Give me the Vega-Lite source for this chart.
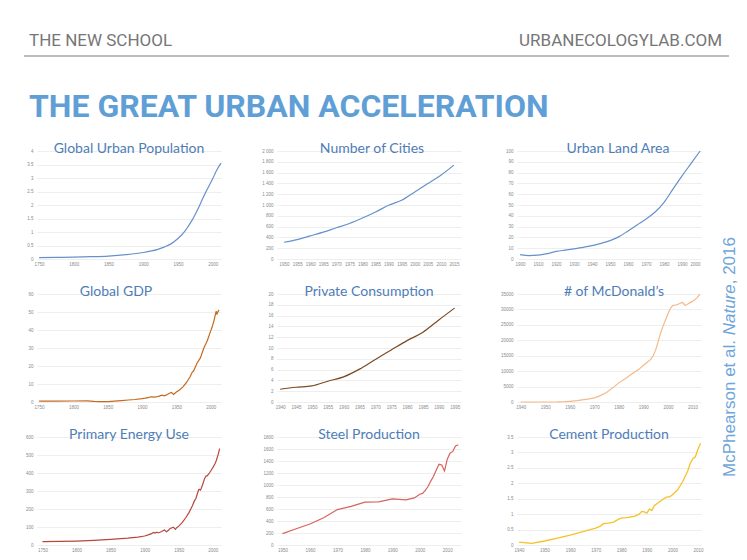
{
  "$schema": "https://vega.github.io/schema/vega-lite/v6.json",
  "padding": {"left": 22, "top": 28, "right": 0, "bottom": 0},
  "background": "white",
  "datasets": {
    "pop": [
      {"year": 1750, "value": 0.05}, {"year": 1775, "value": 0.06}, {"year": 1800, "value": 0.07}, {"year": 1825, "value": 0.085},
      {"year": 1850, "value": 0.11}, {"year": 1875, "value": 0.16}, {"year": 1900, "value": 0.24}, {"year": 1910, "value": 0.29},
      {"year": 1920, "value": 0.35}, {"year": 1930, "value": 0.44}, {"year": 1940, "value": 0.56}, {"year": 1950, "value": 0.76},
      {"year": 1955, "value": 0.88}, {"year": 1960, "value": 1.03}, {"year": 1965, "value": 1.22}, {"year": 1970, "value": 1.42},
      {"year": 1975, "value": 1.66}, {"year": 1980, "value": 1.92}, {"year": 1985, "value": 2.2}, {"year": 1990, "value": 2.47},
      {"year": 1995, "value": 2.72}, {"year": 2000, "value": 2.97}, {"year": 2005, "value": 3.25}, {"year": 2012, "value": 3.55}
    ],
    "cities": [
      {"year": 1950, "value": 310}, {"year": 1955, "value": 360}, {"year": 1960, "value": 428}, {"year": 1965, "value": 497},
      {"year": 1970, "value": 578}, {"year": 1975, "value": 658}, {"year": 1980, "value": 758}, {"year": 1985, "value": 870},
      {"year": 1990, "value": 994}, {"year": 1995, "value": 1087}, {"year": 2000, "value": 1242}, {"year": 2005, "value": 1398},
      {"year": 2010, "value": 1553}, {"year": 2015, "value": 1739}
    ],
    "land": [
      {"year": 1900, "value": 4.0}, {"year": 1905, "value": 3.2}, {"year": 1910, "value": 3.6}, {"year": 1915, "value": 5.0},
      {"year": 1920, "value": 7.0}, {"year": 1925, "value": 8.2}, {"year": 1930, "value": 9.3}, {"year": 1935, "value": 10.8},
      {"year": 1940, "value": 12.4}, {"year": 1945, "value": 14.5}, {"year": 1950, "value": 17.0}, {"year": 1955, "value": 20.7},
      {"year": 1960, "value": 26.0}, {"year": 1965, "value": 31.5}, {"year": 1970, "value": 37.0}, {"year": 1975, "value": 43.5},
      {"year": 1980, "value": 52.5}, {"year": 1985, "value": 65.0}, {"year": 1990, "value": 77.0}, {"year": 1995, "value": 88.5},
      {"year": 2000, "value": 100}
    ],
    "gdp": [
      {"year": 1750, "value": 0.5}, {"year": 1775, "value": 0.5}, {"year": 1800, "value": 0.55}, {"year": 1820, "value": 0.6},
      {"year": 1830, "value": 0.3}, {"year": 1840, "value": 0.2}, {"year": 1850, "value": 0.2}, {"year": 1860, "value": 0.5},
      {"year": 1870, "value": 0.8}, {"year": 1880, "value": 1.1}, {"year": 1890, "value": 1.4}, {"year": 1900, "value": 1.9},
      {"year": 1905, "value": 2.2}, {"year": 1910, "value": 2.6}, {"year": 1913, "value": 2.9}, {"year": 1918, "value": 2.7},
      {"year": 1920, "value": 2.8}, {"year": 1925, "value": 3.3}, {"year": 1929, "value": 3.8}, {"year": 1932, "value": 3.4},
      {"year": 1935, "value": 3.8}, {"year": 1940, "value": 4.9}, {"year": 1943, "value": 5.3}, {"year": 1946, "value": 4.2},
      {"year": 1950, "value": 5.5}, {"year": 1955, "value": 6.8}, {"year": 1960, "value": 8.5}, {"year": 1965, "value": 11.0},
      {"year": 1970, "value": 14.0}, {"year": 1973, "value": 16.5}, {"year": 1975, "value": 17.2}, {"year": 1980, "value": 21.5},
      {"year": 1985, "value": 24.5}, {"year": 1990, "value": 30.0}, {"year": 1995, "value": 34.0}, {"year": 2000, "value": 39.5},
      {"year": 2002, "value": 41.5}, {"year": 2005, "value": 45.5}, {"year": 2007, "value": 49.0}, {"year": 2008, "value": 50.5},
      {"year": 2009, "value": 48.5}, {"year": 2010, "value": 49.8}, {"year": 2011, "value": 50.5}, {"year": 2012, "value": 51.2}
    ],
    "consumption": [
      {"year": 1940, "value": 2.36}, {"year": 1945, "value": 2.73}, {"year": 1950, "value": 2.98}, {"year": 1955, "value": 3.85},
      {"year": 1960, "value": 4.66}, {"year": 1965, "value": 6.09}, {"year": 1970, "value": 7.89}, {"year": 1975, "value": 9.63},
      {"year": 1980, "value": 11.37}, {"year": 1985, "value": 12.92}, {"year": 1990, "value": 15.2}, {"year": 1995, "value": 17.4}
    ],
    "mcd": [
      {"year": 1940, "value": 0}, {"year": 1945, "value": 0}, {"year": 1950, "value": 0}, {"year": 1955, "value": 20},
      {"year": 1958, "value": 100}, {"year": 1960, "value": 230}, {"year": 1963, "value": 450}, {"year": 1965, "value": 700},
      {"year": 1968, "value": 1000}, {"year": 1970, "value": 1350}, {"year": 1972, "value": 1900}, {"year": 1975, "value": 3100},
      {"year": 1978, "value": 4900}, {"year": 1980, "value": 6200}, {"year": 1983, "value": 7800}, {"year": 1985, "value": 8900},
      {"year": 1988, "value": 10500}, {"year": 1990, "value": 11800}, {"year": 1993, "value": 13800}, {"year": 1994, "value": 15000},
      {"year": 1995, "value": 16800}, {"year": 1996, "value": 19500}, {"year": 1997, "value": 22300}, {"year": 1998, "value": 24500},
      {"year": 1999, "value": 26500}, {"year": 2000, "value": 28500}, {"year": 2001, "value": 30300}, {"year": 2002, "value": 31300},
      {"year": 2003, "value": 31400}, {"year": 2004, "value": 31600}, {"year": 2005, "value": 32000}, {"year": 2006, "value": 32300},
      {"year": 2007, "value": 31300}, {"year": 2008, "value": 31700}, {"year": 2009, "value": 32200}, {"year": 2010, "value": 32600},
      {"year": 2011, "value": 33100}, {"year": 2012, "value": 33900}, {"year": 2013, "value": 34900}
    ],
    "energy": [
      {"year": 1750, "value": 19}, {"year": 1775, "value": 20}, {"year": 1800, "value": 22}, {"year": 1825, "value": 26},
      {"year": 1850, "value": 31}, {"year": 1875, "value": 38}, {"year": 1890, "value": 44}, {"year": 1900, "value": 50},
      {"year": 1905, "value": 56}, {"year": 1910, "value": 63}, {"year": 1913, "value": 70}, {"year": 1915, "value": 66},
      {"year": 1918, "value": 71}, {"year": 1920, "value": 67}, {"year": 1925, "value": 75}, {"year": 1929, "value": 83},
      {"year": 1932, "value": 74}, {"year": 1935, "value": 82}, {"year": 1937, "value": 91}, {"year": 1940, "value": 96},
      {"year": 1942, "value": 99}, {"year": 1945, "value": 87}, {"year": 1947, "value": 96}, {"year": 1950, "value": 105},
      {"year": 1955, "value": 124}, {"year": 1960, "value": 150}, {"year": 1965, "value": 180}, {"year": 1970, "value": 218},
      {"year": 1973, "value": 245}, {"year": 1975, "value": 257}, {"year": 1979, "value": 305}, {"year": 1980, "value": 310},
      {"year": 1982, "value": 305}, {"year": 1985, "value": 335}, {"year": 1988, "value": 370}, {"year": 1990, "value": 383},
      {"year": 1992, "value": 385}, {"year": 1995, "value": 400}, {"year": 1998, "value": 418}, {"year": 2000, "value": 430},
      {"year": 2003, "value": 450}, {"year": 2005, "value": 468}, {"year": 2008, "value": 505}, {"year": 2010, "value": 535}
    ],
    "steel": [
      {"year": 1950, "value": 190}, {"year": 1955, "value": 270}, {"year": 1960, "value": 350}, {"year": 1965, "value": 455},
      {"year": 1970, "value": 590}, {"year": 1975, "value": 645}, {"year": 1980, "value": 715}, {"year": 1985, "value": 720},
      {"year": 1990, "value": 770}, {"year": 1995, "value": 752}, {"year": 1998, "value": 785}, {"year": 2000, "value": 845},
      {"year": 2001, "value": 860}, {"year": 2002, "value": 910}, {"year": 2003, "value": 975}, {"year": 2004, "value": 1065},
      {"year": 2005, "value": 1145}, {"year": 2006, "value": 1250}, {"year": 2007, "value": 1345}, {"year": 2008, "value": 1335},
      {"year": 2009, "value": 1235}, {"year": 2010, "value": 1430}, {"year": 2011, "value": 1530}, {"year": 2012, "value": 1560},
      {"year": 2013, "value": 1650}, {"year": 2014, "value": 1670}
    ],
    "cement": [
      {"year": 1940, "value": 0.09}, {"year": 1943, "value": 0.07}, {"year": 1945, "value": 0.055}, {"year": 1950, "value": 0.13},
      {"year": 1955, "value": 0.22}, {"year": 1960, "value": 0.32}, {"year": 1965, "value": 0.43}, {"year": 1970, "value": 0.55},
      {"year": 1972, "value": 0.62}, {"year": 1973, "value": 0.69}, {"year": 1975, "value": 0.71}, {"year": 1977, "value": 0.74},
      {"year": 1979, "value": 0.84}, {"year": 1980, "value": 0.87}, {"year": 1982, "value": 0.89}, {"year": 1985, "value": 0.93},
      {"year": 1987, "value": 1.0}, {"year": 1988, "value": 1.09}, {"year": 1989, "value": 1.07}, {"year": 1990, "value": 1.03},
      {"year": 1991, "value": 1.16}, {"year": 1992, "value": 1.12}, {"year": 1993, "value": 1.28}, {"year": 1995, "value": 1.4},
      {"year": 1997, "value": 1.52}, {"year": 1998, "value": 1.56}, {"year": 1999, "value": 1.56}, {"year": 2000, "value": 1.63},
      {"year": 2002, "value": 1.78}, {"year": 2004, "value": 2.05}, {"year": 2006, "value": 2.4}, {"year": 2007, "value": 2.65},
      {"year": 2008, "value": 2.8}, {"year": 2009, "value": 2.86}, {"year": 2010, "value": 3.1}, {"year": 2011, "value": 3.3}
    ]
  },
  "spacing": 19,
  "vconcat": [
    {
      "width": 692,
      "height": 92,
      "layer": [
        {
          "data": {"values": [{"label": "THE NEW SCHOOL"}]},
          "mark": {"type": "text", "align": "left", "baseline": "alphabetic", "font": "Roboto", "fontSize": 17, "color": "#767676"},
          "encoding": {
            "x": {"datum": -0.01156, "type": "quantitative", "scale": {"domain": [0, 1], "nice": false, "zero": false}, "axis": null},
            "y": {"datum": 0.804, "type": "quantitative", "scale": {"domain": [0, 1], "nice": false, "zero": false}, "axis": null},
            "text": {"field": "label"}
          }
        },
        {
          "data": {"values": [{"label": "URBANECOLOGYLAB.COM"}]},
          "mark": {"type": "text", "align": "right", "baseline": "alphabetic", "font": "Roboto", "fontSize": 17, "color": "#767676"},
          "encoding": {
            "x": {"datum": 0.98988, "type": "quantitative"},
            "y": {"datum": 0.804, "type": "quantitative"},
            "text": {"field": "label"}
          }
        },
        {
          "data": {"values": [{}]},
          "mark": {"type": "rule", "color": "#bdbdbd", "strokeWidth": 2},
          "encoding": {
            "x": {"datum": -0.01879, "type": "quantitative"},
            "x2": {"datum": 1},
            "y": {"datum": 0.696, "type": "quantitative"}
          }
        },
        {
          "data": {"values": [{"label": "THE GREAT URBAN ACCELERATION"}]},
          "mark": {"type": "text", "align": "left", "baseline": "alphabetic", "font": "Roboto", "fontWeight": "bold", "fontSize": 32, "color": "#5f9fd6"},
          "encoding": {
            "x": {"datum": -0.01156, "type": "quantitative"},
            "y": {"datum": 0.033, "type": "quantitative"},
            "text": {"field": "label"}
          }
        }
      ]
    },
    {
      "columns": 6,
      "bounds": "flush",
      "spacing": {"row": 35, "column": 21},
      "concat": [
        {
          "width": 184, "height": 108,
          "title": {"text": "Global Urban Population"},
          "data": {"name": "pop"},
          "mark": {"type": "line", "color": "#6791c9", "interpolate": "monotone", "strokeWidth": 1.2},
          "encoding": {
            "x": {"field": "year", "type": "quantitative", "title": null, "scale": {"domain": [1747, 2012], "nice": false, "zero": false}, "axis": {"values": [1750, 1800, 1850, 1900, 1950, 2000], "format": "d"}},
            "y": {"field": "value", "type": "quantitative", "title": null, "scale": {"domain": [0, 4], "nice": false}, "axis": {"values": [0, 0.5, 1, 1.5, 2, 2.5, 3, 3.5, 4], "format": "~g"}}
          }
        },
        {"width": 13.5, "height": 108, "data": {"values": []}, "mark": "point"},
        {
          "width": 184, "height": 108,
          "title": {"text": "Number of Cities", "dx": 3},
          "data": {"name": "cities"},
          "mark": {"type": "line", "color": "#6791c9", "interpolate": "monotone", "strokeWidth": 1.2},
          "encoding": {
            "x": {"field": "year", "type": "quantitative", "title": null, "scale": {"domain": [1947.3, 2017.7], "nice": false, "zero": false}, "axis": {"values": [1950, 1955, 1960, 1965, 1970, 1975, 1980, 1985, 1990, 1995, 2000, 2005, 2010, 2015], "format": "d"}},
            "y": {"field": "value", "type": "quantitative", "title": null, "scale": {"domain": [0, 2000], "nice": false}, "axis": {"values": [0, 200, 400, 600, 800, 1000, 1200, 1400, 1600, 1800, 2000], "labelExpr": "replace(format(datum.value, ','), ',', ' ')"}}
          }
        },
        {"width": 13.5, "height": 108, "data": {"values": []}, "mark": "point"},
        {
          "width": 184, "height": 108,
          "title": {"text": "Urban Land Area", "dx": 9},
          "data": {"name": "land"},
          "mark": {"type": "line", "color": "#6791c9", "interpolate": "monotone", "strokeWidth": 1.2},
          "encoding": {
            "x": {"field": "year", "type": "quantitative", "title": null, "scale": {"domain": [1898.3, 2000.5], "nice": false, "zero": false}, "axis": {"values": [1900, 1910, 1920, 1930, 1940, 1950, 1960, 1970, 1980, 1990, 2000], "format": "d"}},
            "y": {"field": "value", "type": "quantitative", "title": null, "scale": {"domain": [0, 100], "nice": false}, "axis": {"values": [0, 10, 20, 30, 40, 50, 60, 70, 80, 90, 100], "format": "d"}}
          }
        },
        {"width": 16, "height": 108, "data": {"values": []}, "mark": "point"},
        {
          "width": 184, "height": 108,
          "title": {"text": "Global GDP", "dx": -13},
          "data": {"name": "gdp"},
          "mark": {"type": "line", "color": "#c5691e", "strokeWidth": 1.2},
          "encoding": {
            "x": {"field": "year", "type": "quantitative", "title": null, "scale": {"domain": [1747, 2015], "nice": false, "zero": false}, "axis": {"values": [1750, 1800, 1850, 1900, 1950, 2000], "format": "d"}},
            "y": {"field": "value", "type": "quantitative", "title": null, "scale": {"domain": [0, 60], "nice": false}, "axis": {"values": [0, 10, 20, 30, 40, 50, 60], "format": "d"}}
          }
        },
        {"width": 13.5, "height": 108, "data": {"values": []}, "mark": "point"},
        {
          "width": 184, "height": 108,
          "title": {"text": "Private Consumption"},
          "data": {"name": "consumption"},
          "mark": {"type": "line", "color": "#7b4a22", "interpolate": "monotone", "strokeWidth": 1.2},
          "encoding": {
            "x": {"field": "year", "type": "quantitative", "title": null, "scale": {"domain": [1939, 1997], "nice": false, "zero": false}, "axis": {"values": [1940, 1945, 1950, 1955, 1960, 1965, 1970, 1975, 1980, 1985, 1990, 1995], "format": "d"}},
            "y": {"field": "value", "type": "quantitative", "title": null, "scale": {"domain": [0, 20], "nice": false}, "axis": {"values": [0, 2, 4, 6, 8, 10, 12, 14, 16, 18, 20], "format": "d"}}
          }
        },
        {"width": 13.5, "height": 108, "data": {"values": []}, "mark": "point"},
        {
          "width": 184, "height": 108,
          "title": {"text": "# of McDonald’s", "dx": 5},
          "data": {"name": "mcd"},
          "mark": {"type": "line", "color": "#f4b98a", "strokeWidth": 1.2},
          "encoding": {
            "x": {"field": "year", "type": "quantitative", "title": null, "scale": {"domain": [1938.5, 2013.5], "nice": false, "zero": false}, "axis": {"values": [1940, 1950, 1960, 1970, 1980, 1990, 2000, 2010], "format": "d"}},
            "y": {"field": "value", "type": "quantitative", "title": null, "scale": {"domain": [0, 35000], "nice": false}, "axis": {"values": [0, 5000, 10000, 15000, 20000, 25000, 30000, 35000], "format": "d"}}
          }
        },
        {
          "width": 16, "height": 108,
          "layer": [
            {
              "data": {"values": [{"label": "McPhearson et al."}]},
              "mark": {"type": "text", "angle": 270, "align": "right", "baseline": "middle", "dx": 8, "font": "Liberation Sans", "fontSize": 17, "color": "#6fa5d9"},
              "encoding": {"text": {"field": "label"}}
            },
            {
              "data": {"values": [{"label": "Nature"}]},
              "mark": {"type": "text", "angle": 270, "align": "left", "baseline": "middle", "dx": 12.7, "font": "Liberation Sans", "fontStyle": "italic", "fontSize": 17, "color": "#6fa5d9"},
              "encoding": {"text": {"field": "label"}}
            },
            {
              "data": {"values": [{"label": ", 2016"}]},
              "mark": {"type": "text", "angle": 270, "align": "left", "baseline": "middle", "dx": 63.7, "font": "Liberation Sans", "fontSize": 17, "color": "#6fa5d9"},
              "encoding": {"text": {"field": "label"}}
            }
          ]
        },
        {
          "width": 184, "height": 108,
          "title": {"text": "Primary Energy Use"},
          "data": {"name": "energy"},
          "mark": {"type": "line", "color": "#b8473d", "strokeWidth": 1.2},
          "encoding": {
            "x": {"field": "year", "type": "quantitative", "title": null, "scale": {"domain": [1742, 2012], "nice": false, "zero": false}, "axis": {"values": [1750, 1800, 1850, 1900, 1950, 2000], "format": "d"}},
            "y": {"field": "value", "type": "quantitative", "title": null, "scale": {"domain": [0, 600], "nice": false}, "axis": {"values": [0, 100, 200, 300, 400, 500, 600], "format": "d"}}
          }
        },
        {"width": 13.5, "height": 108, "data": {"values": []}, "mark": "point"},
        {
          "width": 184, "height": 108,
          "title": {"text": "Steel Production"},
          "data": {"name": "steel"},
          "mark": {"type": "line", "color": "#d4645c", "strokeWidth": 1.2},
          "encoding": {
            "x": {"field": "year", "type": "quantitative", "title": null, "scale": {"domain": [1948, 2015], "nice": false, "zero": false}, "axis": {"values": [1950, 1960, 1970, 1980, 1990, 2000, 2010], "format": "d"}},
            "y": {"field": "value", "type": "quantitative", "title": null, "scale": {"domain": [0, 1800], "nice": false}, "axis": {"values": [0, 200, 400, 600, 800, 1000, 1200, 1400, 1600, 1800], "format": "d"}}
          }
        },
        {"width": 13.5, "height": 108, "data": {"values": []}, "mark": "point"},
        {
          "width": 184, "height": 108,
          "title": {"text": "Cement Production"},
          "data": {"name": "cement"},
          "mark": {"type": "line", "color": "#f5c22a", "strokeWidth": 1.3},
          "encoding": {
            "x": {"field": "year", "type": "quantitative", "title": null, "scale": {"domain": [1939.2, 2011.2], "nice": false, "zero": false}, "axis": {"values": [1940, 1950, 1960, 1970, 1980, 1990, 2000, 2010], "format": "d"}},
            "y": {"field": "value", "type": "quantitative", "title": null, "scale": {"domain": [0, 3.5], "nice": false}, "axis": {"values": [0, 0.5, 1, 1.5, 2, 2.5, 3, 3.5], "format": "~g"}}
          }
        }
      ]
    }
  ],
  "config": {
    "view": {"stroke": null},
    "axis": {"labelFont": "Liberation Sans", "labelFontSize": 4.5, "labelColor": "#8a8a8a", "ticks": false, "domain": false, "gridColor": "#e3e3e3", "gridWidth": 0.6, "labelOverlap": false},
    "axisX": {"grid": false, "labelPadding": 2, "labelAngle": 0},
    "axisY": {"labelPadding": 4},
    "title": {"font": "Lato", "fontSize": 14, "fontWeight": "normal", "color": "#4e7db8", "offset": -8, "baseline": "alphabetic", "anchor": "middle"}
  }
}
